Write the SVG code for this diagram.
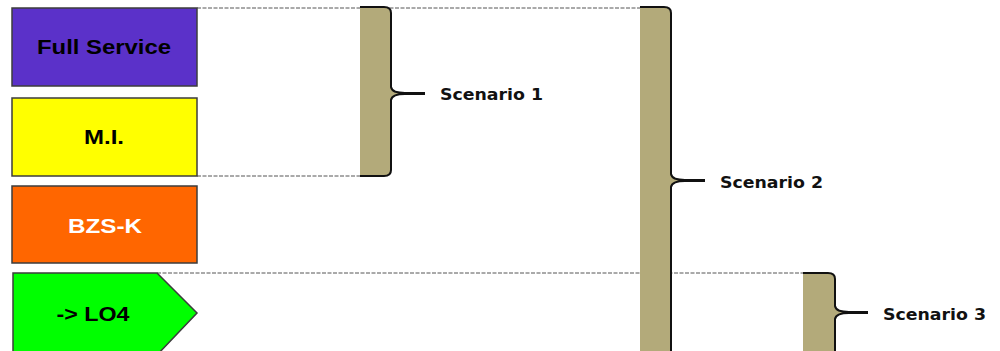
<svg xmlns="http://www.w3.org/2000/svg" width="1000" height="351" viewBox="0 0 1000 351">
<style>
.box{stroke:#3c3c3c;stroke-width:1.5}
.lbl{font-family:"Liberation Sans",Arial,sans-serif;font-weight:bold;font-size:21px;text-anchor:middle}
.dash{stroke:#555;stroke-width:1;stroke-dasharray:4,1.5;fill:none}
.bfill{fill:#b3aa7a;stroke:none}
.bline{fill:none;stroke:#111;stroke-width:2;stroke-linejoin:round}
.sc{font-family:"DejaVu Sans",Verdana,sans-serif;font-weight:bold;font-size:16px;fill:#111}
</style>
<rect width="1000" height="351" fill="#fff"/>
<g id="connectors">
<line class="dash" x1="197" y1="8" x2="641" y2="8"/>
<line class="dash" x1="197" y1="176" x2="361" y2="176"/>
<line class="dash" x1="157" y1="273" x2="804" y2="273"/>
</g>
<g id="full-service">
<rect class="box" x="12" y="8" width="185" height="78" fill="#5b31c9"/>
<text class="lbl" x="104" y="54" textLength="134" lengthAdjust="spacingAndGlyphs">Full Service</text>
</g>
<g id="mi">
<rect class="box" x="12" y="98" width="185" height="78" fill="#ffff00"/>
<text class="lbl" x="104" y="144" textLength="40" lengthAdjust="spacingAndGlyphs">M.I.</text>
</g>
<g id="bzs-k">
<rect class="box" x="12" y="186" width="185" height="77" fill="#ff6600"/>
<text class="lbl" x="105" y="233" fill="#fff" textLength="74" lengthAdjust="spacingAndGlyphs">BZS-K</text>
</g>
<g id="lo4">
<path class="box" d="M13,273 L157,273 L197,313 L157,355 L13,355 Z" fill="#00ff00"/>
<text class="lbl" x="93" y="321" textLength="73" lengthAdjust="spacingAndGlyphs">-&gt; LO4</text>
</g>
<g id="scenario1">
<path class="bfill" d="M360,7 H384 Q391,7 391,13 V87 Q392,93 405,93 H425 V94 H405 Q392,94 391,100 V170 Q391,176 384,176 H360 Z"/>
<path class="bline" d="M360,7 H384 Q391,7 391,13 V87 Q392,93 405,93 H425 M425,94 H405 Q392,94 391,100 V170 Q391,176 384,176 H360"/>
<text class="sc" x="440" y="100" textLength="103" lengthAdjust="spacingAndGlyphs">Scenario 1</text>
</g>
<g id="scenario2">
<path class="bfill" d="M640,7 H664 Q671,7 671,13 V174 Q672,180 685,180 H705 V181 H685 Q672,181 671,187 V356 H640 Z"/>
<path class="bline" d="M640,7 H664 Q671,7 671,13 V174 Q672,180 685,180 H705 M705,181 H685 Q672,181 671,187 V356"/>
<text class="sc" x="720" y="188" textLength="103" lengthAdjust="spacingAndGlyphs">Scenario 2</text>
</g>
<g id="scenario3">
<path class="bfill" d="M803,273 H828 Q835,273 835,279 V306 Q836,312 849,312 H868 V313 H849 Q836,313 835,319 V356 H803 Z"/>
<path class="bline" d="M803,273 H828 Q835,273 835,279 V306 Q836,312 849,312 H868 M868,313 H849 Q836,313 835,319 V356"/>
<text class="sc" x="883" y="320" textLength="103" lengthAdjust="spacingAndGlyphs">Scenario 3</text>
</g>
</svg>
